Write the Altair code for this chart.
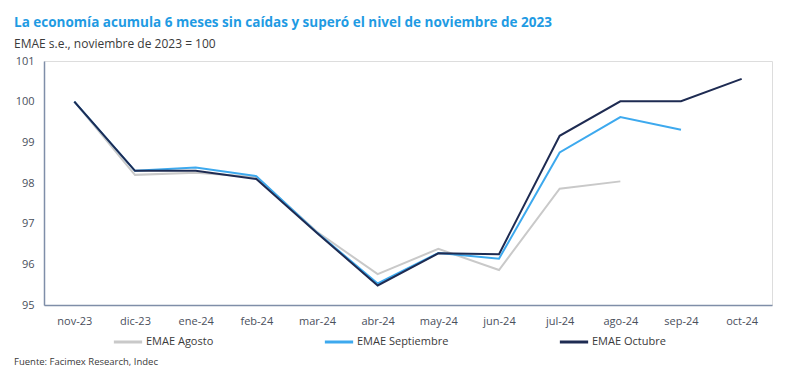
import altair as alt
import pandas as pd

months = ["nov-23", "dic-23", "ene-24", "feb-24", "mar-24", "abr-24",
          "may-24", "jun-24", "jul-24", "ago-24", "sep-24", "oct-24"]
agosto = [100.0, 98.2, 98.25, 98.15, 96.8, 95.76, 96.38, 95.86, 97.86, 98.04, None, None]
septiembre = [100.0, 98.3, 98.38, 98.17, 96.78, 95.53, 96.28, 96.14, 98.75, 99.62, 99.31, None]
octubre = [100.0, 98.3, 98.3, 98.1, 96.77, 95.48, 96.27, 96.25, 99.16, 100.01, 100.01, 100.56]

series_names = ["EMAE Agosto", "EMAE Septiembre", "EMAE Octubre"]
series_colors = ["#c9c9c9", "#3da9ee", "#1e2b52"]

rows = []
for name, vals in zip(series_names, [agosto, septiembre, octubre]):
    for m, v in zip(months, vals):
        if v is not None:
            rows.append({"mes": m, "valor": v, "serie": name})
df = pd.DataFrame(rows)

W, H = 728, 244
FONT = "Open Sans"

color = alt.Color(
    "serie:N",
    scale=alt.Scale(domain=series_names, range=series_colors),
    legend=alt.Legend(
        title=None, orient="none", legendX=68, legendY=H + 21,
        direction="horizontal", symbolType="stroke", symbolStrokeWidth=3,
        symbolSize=800, columnPadding=104, labelFontSize=11,
        labelColor="#3a3a3a", labelFont=FONT, labelOffset=2,
    ),
)

x = alt.X("mes:N", sort=months, title=None,
          scale=alt.Scale(type="point", padding=0.5),
          axis=alt.Axis(labelAngle=0, ticks=False, labelPadding=10, labelFontSize=11,
                        labelColor="#4a4f5c", domainColor="#7f8ea8", domainWidth=1.5,
                        labelFont=FONT, grid=False))
y = alt.Y("valor:Q", title=None,
          scale=alt.Scale(domain=[95, 101], nice=False, zero=False),
          axis=alt.Axis(values=[95, 96, 97, 98, 99, 100, 101], ticks=False, labelPadding=10,
                        labelFontSize=11, labelColor="#4a4f5c", domainColor="#7f8ea8",
                        domainWidth=1.5, labelFont=FONT, grid=False))

layers = []
for name in series_names:
    layers.append(
        alt.Chart(df).transform_filter(alt.datum.serie == name)
        .mark_line(strokeWidth=2)
        .encode(x=x, y=y, color=color)
    )

source = alt.Chart(pd.DataFrame({"t": ["Fuente: Facimex Research, Indec"]})).mark_text(
    align="left", baseline="middle", fontSize=9.5, color="#3a3a3a", font=FONT
).encode(x=alt.value(-30), y=alt.value(H + 57), text="t:N")

chart = alt.layer(*layers, source).properties(
    width=W, height=H,
    padding={"left": 36, "top": 53, "right": 20, "bottom": 72},
    autosize=alt.AutoSizeParams(type="none"),
    title=alt.Title(
        "La economía acumula 6 meses sin caídas y superó el nivel de noviembre de 2023",
        subtitle="EMAE s.e., noviembre de 2023 = 100",
        anchor="start", frame="group", dx=-30, offset=5,
        fontSize=13.5, fontWeight="bold", color="#1f9be3", font=FONT,
        subtitleFontSize=12, subtitleColor="#3a3a3a", subtitleFont=FONT,
        subtitlePadding=10,
    ),
).configure_view(fill="#f1f7fd", stroke=None).configure(background="white")

chart.save("out.html", embed_options={"renderer": "svg", "actions": False})
